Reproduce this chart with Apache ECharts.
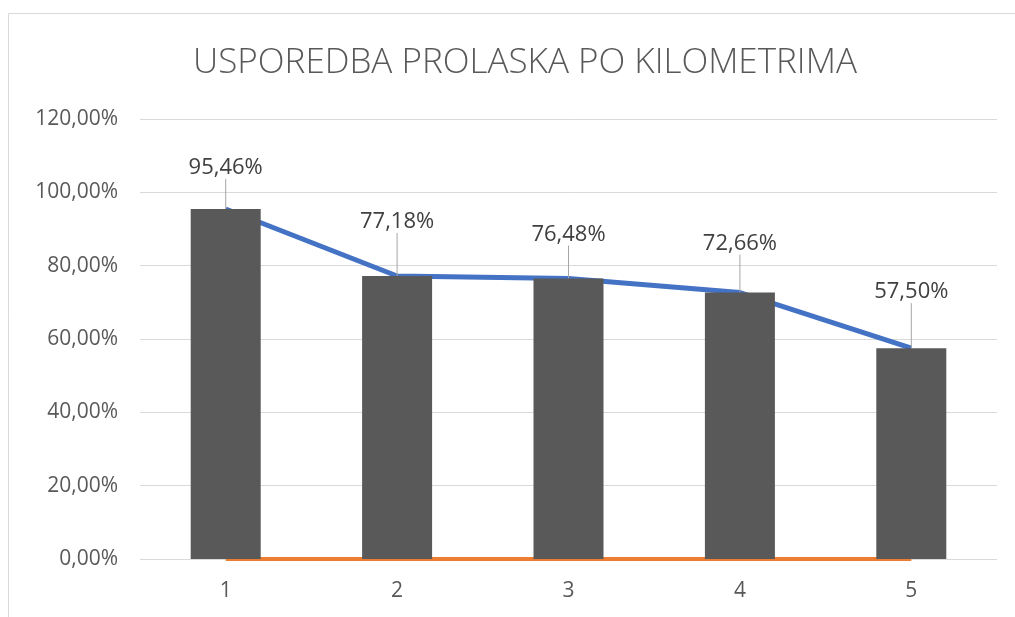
<!DOCTYPE html>
<html>
<head>
<meta charset="utf-8">
<script src="https://cdn.jsdelivr.net/npm/echarts@6/dist/echarts.min.js"></script>
<style>
  html, body { margin: 0; padding: 0; background: #fff; }
  #chart { width: 1015px; height: 617px; }
</style>
</head>
<body>
<div id="chart"></div>
<script>
// podaci
const categories = ['1', '2', '3', '4', '5'];
const prolazak = [95.46, 77.18, 76.48, 72.66, 57.50];
const trend = [95.46, 77.18, 76.48, 72.66, 57.50];
const nula = [0, 0, 0, 0, 0];
// koliko je natpis podignut iznad stupca (px)
const labelLift = [22, 35, 25, 30, 37];

const pct = v => v.toFixed(2).replace('.', ',') + '%';

const myChart = echarts.init(document.getElementById('chart'));
const font = '"Open Sans", "Noto Sans", sans-serif';

const option = {
  animation: false,
  textStyle: { fontFamily: font },
  graphic: [{
    type: 'rect',
    shape: { x: 8.5, y: 13.5, width: 1100, height: 700 },
    style: { fill: 'none', stroke: '#d9d9d9', lineWidth: 1 },
    silent: true
  }],
  title: {
    text: 'USPOREDBA PROLASKA PO KILOMETRIMA',
    left: 520,
    top: 41,
    textAlign: 'center',
    textStyle: { fontFamily: font, fontSize: 35, fontWeight: 300, color: '#595959' }
  },
  grid: { left: 140, right: 18, top: 119, bottom: 58 },
  xAxis: {
    type: 'category',
    data: categories,
    axisLine: { show: false },
    axisTick: { show: false },
    axisLabel: { fontSize: 21, color: '#595959', margin: 22 }
  },
  yAxis: {
    type: 'value',
    min: 0,
    max: 120,
    interval: 20,
    axisLabel: { fontSize: 21, color: '#595959', margin: 22, formatter: v => pct(v) },
    splitLine: { lineStyle: { color: '#d9d9d9', width: 1 } }
  },
  series: [
    {
      name: 'trend',
      type: 'line',
      data: trend,
      z: 1,
      symbol: 'none',
      lineStyle: { color: '#4472c4', width: 5 }
    },
    {
      name: 'nula',
      type: 'line',
      data: nula,
      z: 1,
      symbol: 'none',
      lineStyle: { color: '#ed7d31', width: 4 }
    },
    {
      name: 'prolazak',
      type: 'bar',
      data: prolazak,
      z: 3,
      barWidth: 70,
      itemStyle: { color: '#595959' },
      label: {
        show: true,
        position: 'top',
        distance: 0,
        padding: [0, 0, 8, 0],
        fontSize: 22,
        color: '#404040',
        formatter: p => pct(p.value)
      },
      labelLine: {
        show: true,
        lineStyle: { color: '#a6a6a6', width: 1 }
      },
      labelLayout: p => ({ dy: -labelLift[p.dataIndex] })
    }
  ]
};

myChart.setOption(option);
</script>
</body>
</html>
